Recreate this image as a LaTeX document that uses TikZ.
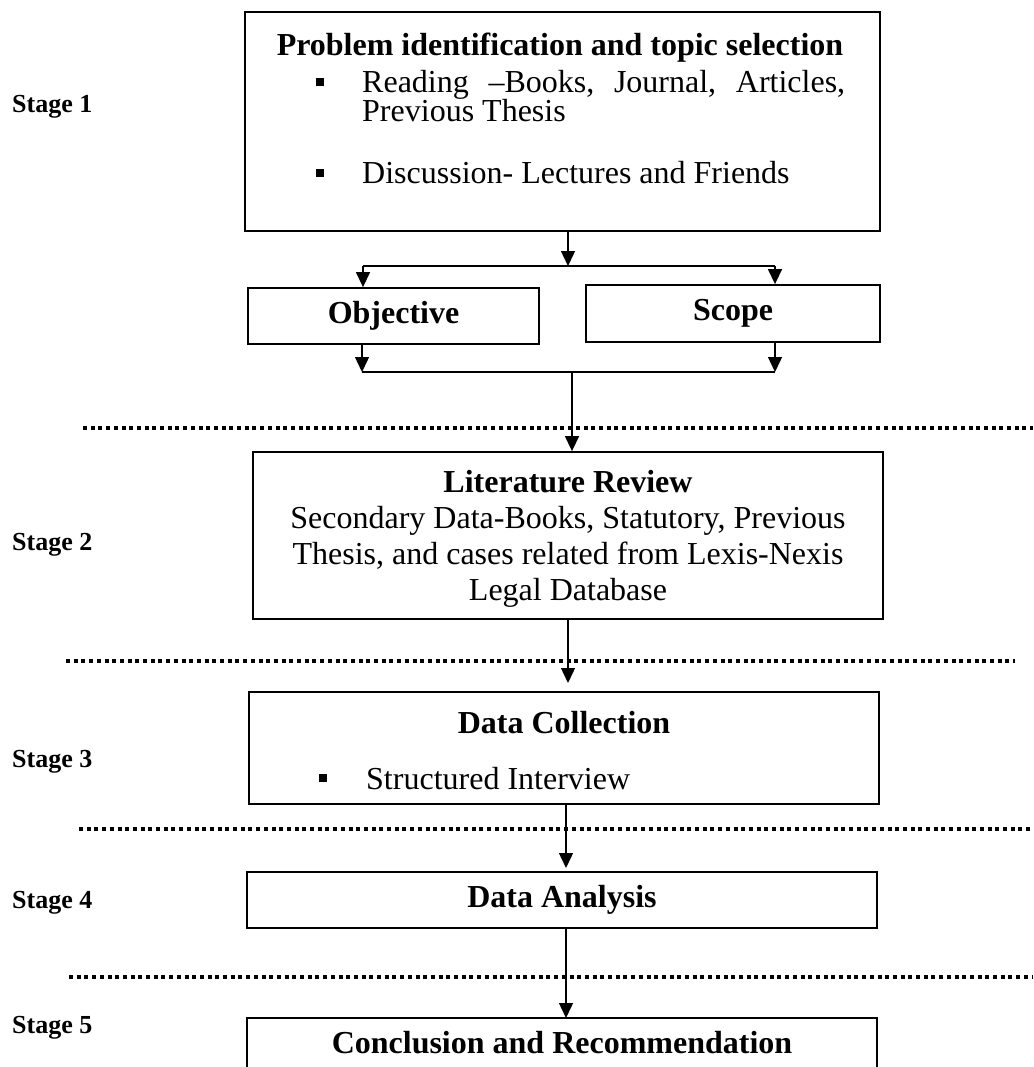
\documentclass[tikz,border=0pt]{standalone}
\usepackage{fontspec}
\setmainfont{Liberation Serif}
\usetikzlibrary{arrows.meta}
\begin{document}
\begin{tikzpicture}[x=1pt,y=-1pt,
  box/.style={draw, line width=1.8pt, rectangle, inner sep=0pt},
  conn/.style={line width=1.4pt},
  arr/.style={conn, -{Triangle[length=15pt,width=14pt]}},
  sep/.style={line width=3.5pt, dash pattern=on 4pt off 3.7pt},
  stagelbl/.style={anchor=west, font=\fontsize{26}{30}\selectfont\bfseries, inner sep=0pt},
  ttl/.style={font=\fontsize{32}{36}\selectfont\bfseries, inner sep=0pt},
  body/.style={font=\fontsize{32}{36}\selectfont, inner sep=0pt},
  bul/.style={fill, minimum size=8pt, inner sep=0pt}
]
\useasboundingbox[fill=white] (0,0) rectangle (1033,1067);

% separators
\draw[sep] (83,428) -- (1033,428);
\draw[sep] (66,661) -- (1015,661);
\draw[sep] (79,829) -- (1033,829);
\draw[sep] (69,977) -- (1033,977);

% stage labels
\node[stagelbl] (s1) at (12,107) {Stage 1};
\node[stagelbl] (s2) at (12,545) {Stage 2};
\node[stagelbl] (s3) at (12,762) {Stage 3};
\node[stagelbl] (s4) at (12,903) {Stage 4};
\node[stagelbl] (s5) at (12,1028) {Stage 5};

% box 1
\node[box, minimum width=635pt, minimum height=219pt] (b1) at (562.5,121.5) {};
\node[ttl, anchor=base] (b1t) at (560,56) {Problem identification and topic selection};
\node[bul] (b1u1) at (320,82) {};
\node[body, anchor=base west] (b1l1) at (362,93) {\makebox[483pt][l]{Reading\hfill–Books,\hfill Journal,\hfill Articles,}};
\node[body, anchor=base west] (b1l2) at (362,122) {Previous Thesis};
\node[bul] (b1u2) at (320,173) {};
\node[body, anchor=base west] (b1l3) at (362,184) {Discussion- Lectures and Friends};

% objective / scope
\node[box, minimum width=291pt, minimum height=56pt, ttl] (obj) at (393.5,316) {Objective};
\node[box, minimum width=294pt, minimum height=57pt, ttl] (scope) at (733,313.5) {Scope};

\coordinate (split) at (568,266);
\coordinate (sl) at (363,266);
\coordinate (sr) at (775,266);
\draw[arr] (b1.south -| split) -- (split);
\draw[conn] (sl) -- (sr);
\draw[arr] (sl) -- (sl |- obj.north);
\draw[arr] (sr) -- (sr |- scope.north);

\coordinate (ml) at (362,372);
\coordinate (mr) at (775,372);
\coordinate (mj) at (572,372);
\draw[arr] (obj.south -| ml) -- (ml);
\draw[arr] (scope.south -| mr) -- (mr);
\draw[conn] (ml) -- (mr);

% literature review
\node[box, minimum width=630pt, minimum height=167pt] (lit) at (568,535.5) {};
\node[body, align=center] (litt) at (568,539)
  {{\bfseries Literature Review}\\Secondary Data-Books, Statutory, Previous\\Thesis, and cases related from Lexis-Nexis\\Legal Database};
\draw[arr] (mj) -- (mj |- lit.north);

% data collection
\node[box, minimum width=630pt, minimum height=112pt] (dc) at (564,748) {};
\node[ttl] (dct) at (564,723) {Data Collection};
\node[bul] (dcu) at (323,778) {};
\node[body, anchor=base west] (dcl) at (366,789) {Structured Interview};
\coordinate (dcin) at (568,683);
\draw[arr] (lit.south -| dcin) -- (dcin);

% data analysis
\node[box, minimum width=630pt, minimum height=56pt, ttl] (da) at (562,900) {Data Analysis};
\coordinate (dain) at (566,868);
\draw[arr] (dc.south -| dain) -- (dain);

% conclusion (cut by the page edge)
\coordinate (ctl) at (247,1018);
\coordinate (ctr) at (877,1018);
\draw[line width=1.8pt] (247,1070) -- (ctl) -- (ctr) -- (877,1070);
\node[ttl] (concl) at (562,1043) {Conclusion and Recommendation};
\coordinate (cin) at (566,1018);
\draw[arr] (da.south -| cin) -- (cin);
\end{tikzpicture}
\end{document}
